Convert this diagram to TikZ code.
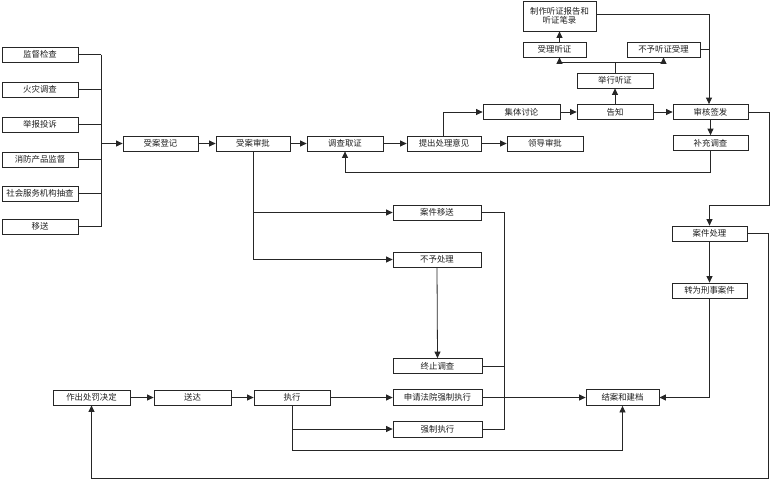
\documentclass[tikz,border=0pt]{standalone}
\usepackage{fontspec}
\setmainfont{Noto Sans CJK SC}
\usetikzlibrary{arrows.meta,calc}
\definecolor{ln}{HTML}{262626}
\definecolor{tx}{HTML}{202020}
\tikzset{
  bx/.style={draw=ln,line width=0.8pt,fill=white,minimum height=15pt,inner sep=0pt,
    font=\fontsize{8.4}{9.6}\selectfont,text=tx,align=center},
  cn/.style={draw=ln,line width=0.8pt},
  ar/.style={cn,-{Triangle[length=6.5pt,width=6pt]}},
}
\begin{document}
\begin{tikzpicture}[x=1pt,y=-1pt]
\useasboundingbox[fill=white] (0,0) rectangle (771,480);
% left column
\node[bx,minimum width=76pt] (s1) at (40,54.5) {监督检查};
\node[bx,minimum width=76pt] (s2) at (40,89.5) {火灾调查};
\node[bx,minimum width=76pt] (s3) at (40,124.5) {举报投诉};
\node[bx,minimum width=76pt] (s4) at (40,159.5) {消防产品监督};
\node[bx,minimum width=76pt] (s5) at (40,193.5) {社会服务机构抽查};
\node[bx,minimum width=76pt] (s6) at (40,226.5) {移送};
\coordinate (bus) at (101,143.5);
% main row
\node[bx,minimum width=75pt] (sadj) at (160.5,143.5) {受案登记};
\node[bx,minimum width=74pt] (sasp) at (253,143.5) {受案审批};
\node[bx,minimum width=76pt] (dcqz) at (345,143.5) {调查取证};
\node[bx,minimum width=74pt] (tccl) at (444,143.5) {提出处理意见};
\node[bx,minimum width=76pt] (ldsp) at (545,143.5) {领导审批};
\node[bx,minimum width=77pt] (jttl) at (521.5,112) {集体讨论};
\node[bx,minimum width=76pt] (gz) at (615,112) {告知};
\node[bx,minimum width=75pt] (shqf) at (710.5,112) {审核签发};
\node[bx,minimum width=75pt] (bcdc) at (710.5,143) {补充调查};
\node[bx,minimum width=76pt] (jxtz) at (615,80.5) {举行听证};
\node[bx,minimum width=63pt] (sltz) at (554.5,49.5) {受理听证};
\node[bx,minimum width=73pt] (bytz) at (663.5,49.5) {不予听证受理};
\node[bx,minimum width=73pt,minimum height=30pt] (zztz) at (559.5,16) {制作听证报告和\\听证笔录};
% middle
\node[bx,minimum width=88pt] (ajys) at (437,212.5) {案件移送};
\node[bx,minimum width=88pt] (bycl) at (437,259.5) {不予处理};
\node[bx,minimum width=89pt] (zzdc) at (437.5,366) {终止调查};
\node[bx,minimum width=89pt,minimum height=16pt] (sqfy) at (437.5,397.5) {申请法院强制执行};
\node[bx,minimum width=89pt,minimum height=16pt] (qzzx) at (437.5,429) {强制执行};
\node[bx,minimum width=73pt,minimum height=16pt] (jajd) at (622.5,397.5) {结案和建档};
% right
\node[bx,minimum width=75pt] (ajcl) at (709.5,233.5) {案件处理};
\node[bx,minimum width=75pt] (zwxs) at (709.5,290.5) {转为刑事案件};
% bottom row
\node[bx,minimum width=77pt] (zccf) at (91.5,397.5) {作出处罚决定};
\node[bx,minimum width=77pt] (sd) at (192.5,397.5) {送达};
\node[bx,minimum width=76pt] (zx) at (292,397.5) {执行};
% connectors: sources
\foreach \n in {s1,s2,s3,s4,s5,s6}{\draw[cn] (\n.east) -- (\n.east -| bus);}
\draw[cn] (s1.east -| bus) -- (s6.east -| bus);
\draw[ar] (bus) -- (sadj.west);
\draw[ar] (sadj) -- (sasp);
\draw[ar] (sasp) -- (dcqz);
\draw[ar] (dcqz) -- (tccl);
\draw[ar] (tccl) -- (ldsp);
\draw[ar] ([xshift=-1pt]tccl.north) |- (jttl.west);
\draw[ar] (jttl) -- (gz);
\draw[ar] (gz) -- (shqf);
\draw[ar] (gz) -- (jxtz);
\coordinate (hj) at (615,62);
\draw[cn] (jxtz.north) -- (hj);
\draw[ar] (hj) -| (sltz.south -| zztz.south);
\draw[ar] (hj) -| (bytz.south);
\draw[ar] (sltz.north -| zztz.south) -- (zztz.south);
\coordinate (rv) at (709,14);
\draw[ar] (zztz.east |- rv) -- (rv) -- (rv |- shqf.north);
\draw[cn] (bytz.east) -- (bytz.east -| rv);
\draw[ar] (shqf) -- (bcdc);
\coordinate (lb) at (710,172);
\draw[ar] (bcdc.south -| lb) -- (lb) -| (dcqz.south);
\coordinate (ra) at (769,112);
\draw[ar] (shqf.east) -- (ra) -- (769,205) -| (ajcl.north);
\draw[ar] (ajcl) -- (zwxs);
\draw[ar] (zwxs.south) |- (jajd.east);
\draw[ar] (ajcl.east) -- (768,233.5) -- (768,478) -| (zccf.south);
% branches from 受案审批
\coordinate (bb) at (253,259.5);
\draw[cn] (sasp.south) -- (bb);
\draw[ar] (sasp.south |- ajys.west) -- (ajys.west);
\draw[ar] (bb) -- (bycl.west);
\draw[ar] (bycl.south) -- (zzdc.north);
\coordinate (cb) at (504,212.5);
\draw[cn] (ajys.east) -- (cb) -- (cb |- qzzx.east) -- (qzzx.east);
\draw[cn] (zzdc.east) -- (zzdc.east -| cb);
\draw[ar] (sqfy.east) -- (jajd.west);
% bottom row
\draw[ar] (zccf) -- (sd);
\draw[ar] (sd) -- (zx);
\draw[ar] (zx) -- (sqfy);
\coordinate (eb) at (292,450);
\draw[cn] (zx.south) -- (eb);
\draw[ar] (zx.south |- qzzx.west) -- (qzzx.west);
\draw[ar] (eb) -| (jajd.south);
\end{tikzpicture}
\end{document}
